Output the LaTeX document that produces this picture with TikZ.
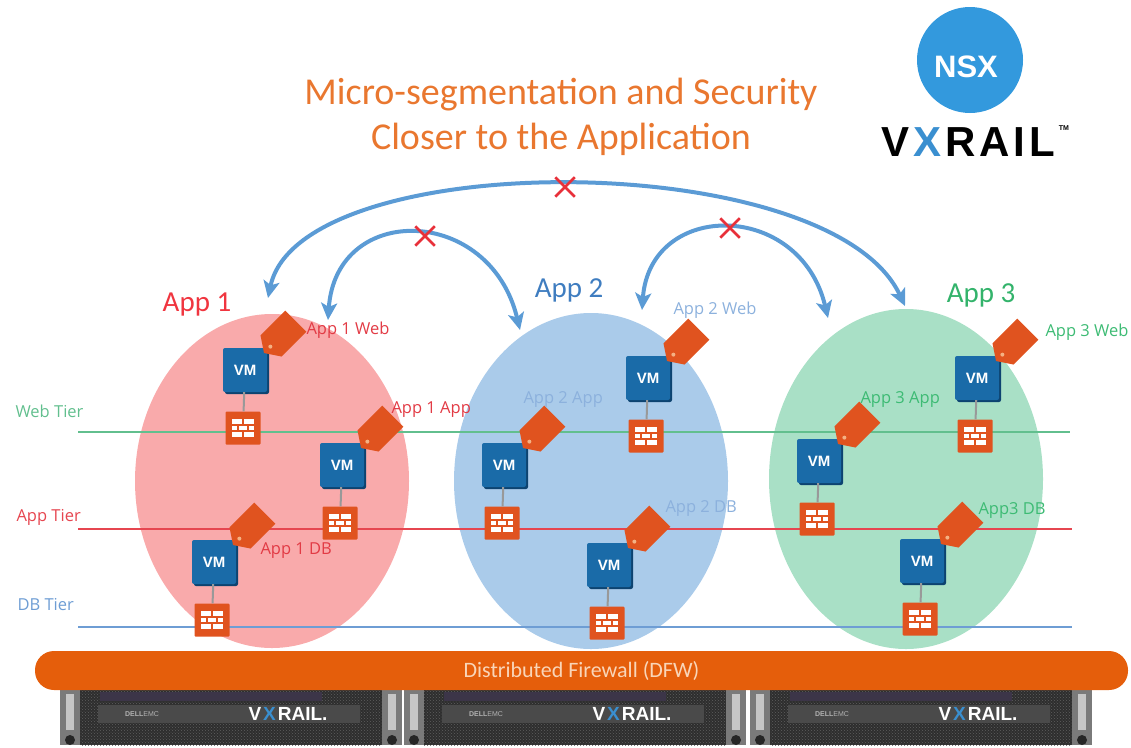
\documentclass[tikz,border=0pt]{standalone}
\usepackage{fontspec}
\setmainfont{Carlito}
\newfontfamily\lblfont{Open Sans}
\newfontfamily\logofont{Liberation Sans}
\usepackage{tikz}
\usetikzlibrary{arrows.meta,shapes.misc,shadows,patterns}

\definecolor{titleorange}{HTML}{E9772F}
\definecolor{nsxblue}{HTML}{3399DD}
\definecolor{vxblue}{HTML}{3A8FD0}
\definecolor{app1red}{HTML}{F0353F}
\definecolor{app2blue}{HTML}{3F7DC0}
\definecolor{app3green}{HTML}{33B36B}
\definecolor{lbl1}{HTML}{E23B45}
\definecolor{lbl2}{HTML}{8CB1DD}
\definecolor{lbl3}{HTML}{3DBB74}
\definecolor{pinkarea}{HTML}{F9AAAB}
\definecolor{bluearea}{HTML}{AACBEA}
\definecolor{greenarea}{HTML}{A9E0C6}
\definecolor{webline}{HTML}{62BF8E}
\definecolor{appline}{HTML}{E64650}
\definecolor{dbline}{HTML}{6E9DD4}
\definecolor{arrowblue}{HTML}{5B9BD5}
\definecolor{xred}{HTML}{E8303A}
\definecolor{vmblue}{HTML}{1A6BA8}
\definecolor{vmshade}{HTML}{0D4370}
\definecolor{fwred}{HTML}{E0531F}
\definecolor{tagdot}{HTML}{F4B183}
\definecolor{dfworange}{HTML}{E55E0B}
\definecolor{dfwtext}{HTML}{F9D5B8}
\definecolor{srvbody}{HTML}{2E2E2E}
\definecolor{srvmesh}{HTML}{5E5E5E}
\definecolor{srvear}{HTML}{7A7A7A}
\definecolor{srvstrip}{HTML}{4A4A4A}
\definecolor{srvband}{HTML}{3C3548}

\begin{document}
\begin{tikzpicture}[x=1pt,y=-1pt,
    flow/.style={draw=arrowblue,line width=4pt,>={Stealth[length=17pt,width=16pt,inset=4pt]},<->},
    blocked/.style={cross out,draw=xred,line width=2.5pt,minimum size=17pt,inner sep=0pt},
    heading/.style={font=\fontsize{29}{29}\selectfont,anchor=base},
    tier/.style={font=\lblfont\fontsize{16.5}{16.5}\selectfont,anchor=base west},
    taglbl/.style={font=\lblfont\fontsize{16.5}{16.5}\selectfont,anchor=base west},
    vm/.style={fill=vmblue,text=white,font=\logofont\bfseries\fontsize{15}{15}\selectfont,
        minimum size=44pt,inner sep=0pt,rounded corners=2pt,
        drop shadow={shadow xshift=2pt,shadow yshift=-2pt,fill=vmshade,opacity=1}},
    fw/.style={fill=fwred,minimum width=35pt,minimum height=33pt,inner sep=0pt,rounded corners=1pt},
    link/.style={draw=gray!80,line width=2pt}]

    \useasboundingbox (0,0) rectangle (1131,747);

    % Titre
    \node[font=\fontsize{38}{45}\selectfont,text=titleorange,align=center,inner sep=0pt] (title) at (561,117)
        {Micro-segmentation and Security\\Closer to the Application};

    % Logo NSX / VxRail
    \node[circle,fill=nsxblue,minimum size=106pt,inner sep=0pt] (nsx) at (970,60) {};
    \node[font=\logofont\bfseries\fontsize{31}{31}\selectfont,text=white] (nsxtxt) at (966,67) {NSX};
    \node[font=\logofont\bfseries\fontsize{42}{42}\selectfont,inner sep=0pt] (vxrail) at (968,142)
        {V\kern4pt{\color{vxblue}X}\kern4pt R\kern4pt A\kern4pt I\kern4pt L};
    \node[font=\logofont\bfseries\fontsize{7}{7}\selectfont] (tm) at (1064,128) {TM};

    % Zones applicatives
    \fill[pinkarea] (272,481) ellipse (137 and 167);
    \fill[bluearea] (591,481) ellipse (137 and 168);
    \fill[greenarea] (906,479) ellipse (137 and 170);

    \node[heading,text=app1red] (app1) at (197,311) {App 1};
    \node[heading,text=app2blue] (app2) at (569,297) {App 2};
    \node[heading,text=app3green] (app3) at (981,302) {App 3};

    % Flux bloques entre applications
    \coordinate (a1-far) at (268,298);
    \coordinate (a1-near) at (328,320);
    \coordinate (a2-left) at (520,330);
    \coordinate (a2-right) at (642,310);
    \coordinate (a3-near) at (828,318);
    \coordinate (a3-far) at (905,306);
    \draw[flow] (a1-far) .. controls +(32,-152) and +(-75,-160) .. (a3-far);
    \draw[flow] (a1-near) .. controls +(8,-118) and +(-30,-125) .. (a2-left);
    \draw[flow] (a2-right) .. controls +(8,-110) and +(-28,-118) .. (a3-near);
    \node[blocked] (cut13) at (565,187) {};
    \node[blocked] (cut12) at (425,236) {};
    \node[blocked] (cut23) at (730,228) {};

    % Niveaux
    \node[tier,text=webline] (webtier) at (12,417) {Web Tier};
    \node[tier,text=appline] (apptier) at (13,521) {App Tier};
    \node[tier,text=dbline] (dbtier) at (14,610) {DB Tier};
    \coordinate (web-l) at (78,432);  \coordinate (web-r) at (1070,432);
    \coordinate (app-l) at (78,529);  \coordinate (app-r) at (1072,529);
    \coordinate (db-l) at (78,627);   \coordinate (db-r) at (1072,627);
    \draw[webline,line width=1.5pt] (web-l) -- (web-r);
    \draw[appline,line width=1.5pt] (app-l) -- (app-r);
    \draw[dbline,line width=1.5pt] (db-l) -- (db-r);

    % VM + pare-feu + etiquette
    \foreach \n/\x/\y in {a1w/245/370,a1a/342/465,a1d/214/562,
                          a2w/648/378,a2a/504/465,a2d/609/565,
                          a3w/977/378,a3a/819/461,a3d/922/561} {
        \node[vm] (vm-\n) at (\x,\y) {VM};
        \node[fw] (fw-\n) at (\x-2,\y+58) {};
        \draw[link] (vm-\n) -- (fw-\n);
        \begin{scope}[shift={(fw-\n)}]
            \fill[white] (-11,-9) rectangle (11,9);
            \draw[fwred,line width=1.6pt] (-11,-3) -- (11,-3) (-11,3) -- (11,3)
                (0,-9) -- (0,-3) (-5,-3) -- (-5,3) (5,-3) -- (5,3) (0,3) -- (0,9);
        \end{scope}
        \begin{scope}[shift={(vm-\n)},shift={(19,-17)},rotate=45]
            \fill[fwred] (0,0) -- (10,-15) -- (45,-15) -- (45,15) -- (10,15) -- cycle;
            \fill[tagdot] (9,0) circle (2);
        \end{scope}
    }

    \node[taglbl,text=lbl1] (l-a1w) at (303,334) {App 1 Web};
    \node[taglbl,text=lbl1] (l-a1a) at (388,413) {App 1 App};
    \node[taglbl,text=lbl1] (l-a1d) at (257,554) {App 1 DB};
    \node[taglbl,text=lbl2] (l-a2w) at (670,314) {App 2 Web};
    \node[taglbl,text=lbl2] (l-a2a) at (520,403) {App 2 App};
    \node[taglbl,text=lbl2] (l-a2d) at (662,512) {App 2 DB};
    \node[taglbl,text=lbl3] (l-a3w) at (1042,336) {App 3 Web};
    \node[taglbl,text=lbl3] (l-a3a) at (857,403) {App 3 App};
    \node[taglbl,text=lbl3] (l-a3d) at (975,514) {App3 DB};

    % Serveurs VxRail
    \foreach \s/\sx in {1/60,2/404,3/750} {
        \fill[srvbody] (\sx+20,686) rectangle (\sx+322,745);
        \fill[pattern=crosshatch dots,pattern color=srvmesh] (\sx+20,686) rectangle (\sx+322,745);
        \fill[srvband] (\sx+40,692) rectangle (\sx+262,701);
        \fill[srvstrip] (\sx+38,705) rectangle (\sx+300,723);
        \fill[srvear] (\sx,686) rectangle (\sx+20,745);
        \fill[srvear] (\sx+322,686) rectangle (\sx+342,745);
        \fill[gray!45] (\sx+6,694) rectangle (\sx+14,730);
        \fill[gray!45] (\sx+328,694) rectangle (\sx+336,730);
        \fill[gray!30!black] (\sx+10,740) circle (5);
        \fill[gray!30!black] (\sx+332,740) circle (5);
        \node[font=\logofont\bfseries\fontsize{7}{7}\selectfont,text=gray!60] (dell-\s) at (\sx+82,714) {DELL\textmd{EMC}};
        \node[font=\logofont\bfseries\fontsize{19}{19}\selectfont,text=white] (vx-\s) at (\sx+228,714)
            {V\kern2pt{\color{vxblue}X}\kern2pt RAIL.};
    }

    % Pare-feu distribue
    \node[fill=dfworange,rounded corners=19pt,minimum width=1093pt,minimum height=39pt,
        text=dfwtext,font=\fontsize{22}{22}\selectfont,text height=14pt,text depth=0pt] (dfw) at (581.5,670.5)
        {Distributed Firewall (DFW)};
\end{tikzpicture}
\end{document}
